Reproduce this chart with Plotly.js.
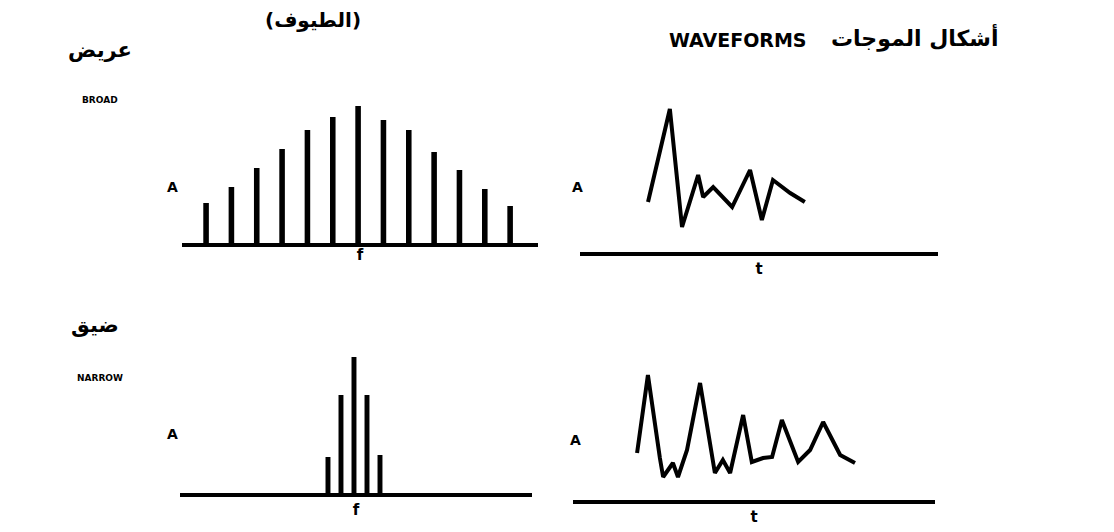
<!DOCTYPE html>
<html>
<head>
<meta charset="utf-8">
<script src="https://cdn.plot.ly/plotly-3.0.1.min.js"></script>
<style>
html,body{margin:0;padding:0;background:#fff;}
#chart{width:1114px;height:532px;}
</style>
</head>
<body>
<div id="chart"></div>
<script>
// ---- data ----
const broadFreq = [1, 2, 3, 4, 5, 6, 7, 8, 9, 10, 11, 12, 13];
const broadSpectrum = [40, 56, 75, 94, 113, 126, 137, 123, 113, 91, 73, 54, 37];

const narrowFreq = [-2, -1, 0, 1, 2];
const narrowSpectrum = [36, 98, 136, 98, 38];

const broadTime = [19.0, 25.1, 28.5, 33.0, 34.4, 37.2, 42.5, 47.5, 50.8, 53.9, 58.7, 62.8];
const broadWave = [50, 143, 25, 77, 55, 65, 45, 82, 32, 72, 59, 50];

const narrowTime = [17.7, 20.7, 24.0, 24.9, 27.6, 29.0, 31.5, 35.1, 39.2, 41.4, 43.4, 47.0, 49.4, 52.5, 55.0, 57.7, 62.2, 65.5, 69.1, 73.8, 77.9];
const narrowWave = [47, 125, 42, 23, 37, 23, 50, 117, 27, 40, 27, 85, 38, 42, 43, 80, 38, 50, 78, 45, 37];

const titleSpectrum = "(الطيوف)";
const titleWaveAr = "أشكال الموجات";
const titleWaveEn = "WAVEFORMS";
const rowBroadAr = "عريض";
const rowBroadEn = "BROAD";
const rowNarrowAr = "ضيق";
const rowNarrowEn = "NARROW";
const ampLabel = "A";
const freqLabel = "f";
const timeLabel = "t";

// ---- layout helpers ----
const W = 1114, H = 532;
const px = v => v / W;
const py = v => 1 - v / H;

const arFont = {family: "DejaVu Sans", size: 21, color: "#000"};
const enFont = {family: "DejaVu Sans", size: 9, color: "#000"};
const aFont = {family: "DejaVu Sans", size: 14, color: "#000"};

function xAxis(domain, range, anchor, title, lw, standoff) {
  return {
    domain: domain, range: range, anchor: anchor,
    showgrid: false, zeroline: false, showticklabels: false, ticks: "",
    showline: true, linecolor: "#000", linewidth: lw, fixedrange: true,
    title: {text: "<b>" + title + "</b>", font: {family: "DejaVu Sans", size: 15, color: "#000"}, standoff: standoff}
  };
}
function yAxis(domain, range, anchor) {
  return {
    domain: domain, range: range, anchor: anchor,
    showgrid: false, zeroline: false, showticklabels: false, ticks: "",
    showline: false, fixedrange: true
  };
}
function label(text, x, y, font) {
  return {text: "<b>" + text + "</b>", x: px(x), y: py(y), xref: "paper", yref: "paper",
          xanchor: "center", yanchor: "middle", showarrow: false, font: font};
}

const traces = [
  {type: "bar", x: broadFreq, y: broadSpectrum, xaxis: "x", yaxis: "y",
   width: 0.22, marker: {color: "#000", line: {width: 0}}, hoverinfo: "skip"},
  {type: "scatter", mode: "lines", x: broadTime, y: broadWave, xaxis: "x2", yaxis: "y2",
   line: {color: "#000", width: 4}, hoverinfo: "skip"},
  {type: "bar", x: narrowFreq, y: narrowSpectrum, xaxis: "x3", yaxis: "y3",
   width: 0.38, marker: {color: "#000", line: {width: 0}}, hoverinfo: "skip"},
  {type: "scatter", mode: "lines", x: narrowTime, y: narrowWave, xaxis: "x4", yaxis: "y4",
   line: {color: "#000", width: 4}, hoverinfo: "skip"}
];

const layout = {
  width: W, height: H,
  margin: {l: 0, r: 0, t: 0, b: 0},
  paper_bgcolor: "#fff", plot_bgcolor: "rgba(0,0,0,0)",
  showlegend: false,
  xaxis:  xAxis([px(182), px(538)], [0.05, 14.1], "y", freqLabel, 4, 4),
  yaxis:  yAxis([py(243), py(93)], [0, 150], "x"),
  xaxis2: xAxis([px(580), px(938)], [0, 100], "y2", timeLabel, 3.5, 10),
  yaxis2: yAxis([py(252), py(92)], [0, 160], "x2"),
  xaxis3: xAxis([px(180), px(532)], [-13.38, 13.69], "y3", freqLabel, 3.5, 10),
  yaxis3: yAxis([py(493), py(343)], [0, 150], "x3"),
  xaxis4: xAxis([px(573), px(935)], [0, 100], "y4", timeLabel, 3.5, 10),
  yaxis4: yAxis([py(500), py(340)], [0, 160], "x4"),
  annotations: [
    label(titleSpectrum, 313, 20, {family: "DejaVu Sans", size: 20, color: "#000"}),
    label(titleWaveAr, 915, 38, {family: "DejaVu Sans", size: 22, color: "#000"}),
    label(titleWaveEn, 738, 40, {family: "DejaVu Sans", size: 19, color: "#000"}),
    label(rowBroadAr, 100, 50, arFont),
    label(rowBroadEn, 100, 100, enFont),
    label(rowNarrowAr, 95, 325, arFont),
    label(rowNarrowEn, 100, 378, enFont),
    label(ampLabel, 172, 187, aFont),
    label(ampLabel, 577, 187, aFont),
    label(ampLabel, 172, 434, aFont),
    label(ampLabel, 575, 440, aFont)
  ]
};

Plotly.newPlot("chart", traces, layout, {staticPlot: true, displayModeBar: false});
</script>
</body>
</html>
